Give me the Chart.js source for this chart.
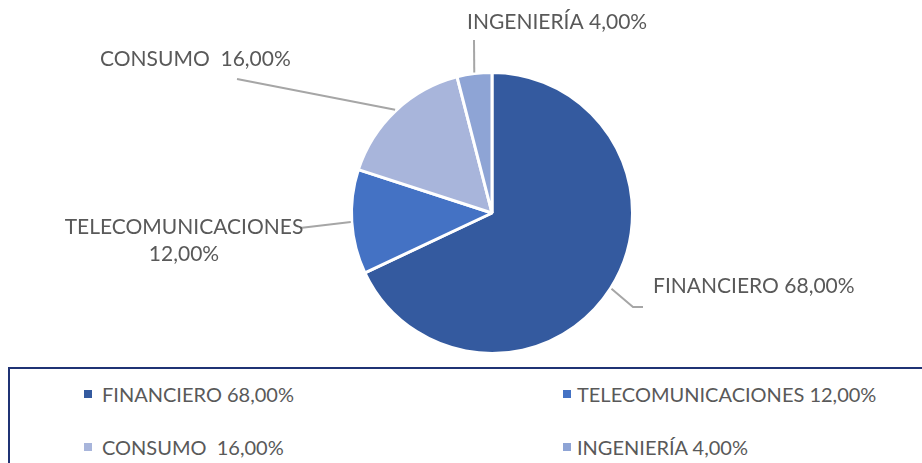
<!DOCTYPE html>
<html>
<head>
<meta charset="utf-8">
<script src="https://cdn.jsdelivr.net/npm/chart.js@4.4.1/dist/chart.umd.min.js"></script>
<style>
  html, body { margin: 0; padding: 0; background: #ffffff; }
  #wrap { position: relative; width: 922px; height: 463px; overflow: hidden; }
  #chartBox { position: absolute; left: 0; top: 0; width: 922px; height: 365px; }
  #legend { position: absolute; left: 8px; top: 367px; width: 940px; height: 120px;
            border: 2px solid #1f3274; box-sizing: border-box; }
  .item { position: absolute; font-family: Lato, "Open Sans", sans-serif; font-size: 20px;
          color: #595959; white-space: pre; line-height: 20px; }
  .mk { position: absolute; width: 8px; height: 8px; }
</style>
</head>
<body>
<div id="wrap">
  <div id="chartBox"><canvas id="c"></canvas></div>
  <div id="legend"></div>
</div>
<script>
// ---- data ----
const categories = ["FINANCIERO", "TELECOMUNICACIONES", "CONSUMO ", "INGENIERÍA"];
const values = [68, 12, 16, 4];
const valueLabels = ["68,00%", "12,00%", "16,00%", "4,00%"];
const colors = ["#345a9f", "#4472c4", "#a8b5db", "#8ea4d5"];

// ---- label layout (positions of text and leader line bends) ----
const labelLayout = [
  { pts: [[633, 307], [643, 307]], lines: ["FINANCIERO 68,00%"], x: 653, y: 286, align: "left" },
  { pts: [[300, 228]], lines: ["TELECOMUNICACIONES", "12,00%"], x: 184, y: 227, align: "center", lh: 27 },
  { pts: [[237, 79]], lines: ["CONSUMO  16,00%"], x: 100, y: 59, align: "left" },
  { pts: [[474, 40]], lines: ["INGENIERÍA 4,00%"], x: 467, y: 22, align: "left" }
];

const labelFont = '21px Lato, "Open Sans", sans-serif';

const leaderPlugin = {
  id: 'leaders',
  afterDatasetsDraw(chart) {
    const ctx = chart.ctx;
    const meta = chart.getDatasetMeta(0);
    meta.data.forEach((arc, i) => {
      const p = arc.getProps(['x', 'y', 'startAngle', 'endAngle', 'outerRadius'], true);
      const mid = (p.startAngle + p.endAngle) / 2;
      const sx = p.x + Math.cos(mid) * (p.outerRadius + 1);
      const sy = p.y + Math.sin(mid) * (p.outerRadius + 1);
      const L = labelLayout[i];
      ctx.save();
      ctx.strokeStyle = '#a6a6a6';
      ctx.lineWidth = 2;
      ctx.beginPath();
      ctx.moveTo(sx, sy);
      L.pts.forEach(q => ctx.lineTo(q[0], q[1]));
      ctx.stroke();
      ctx.fillStyle = '#595959';
      ctx.font = labelFont;
      ctx.textBaseline = 'middle';
      ctx.textAlign = L.align;
      L.lines.forEach((t, k) => ctx.fillText(t, L.x, L.y + k * (L.lh || 0)));
      ctx.restore();
    });
  }
};

new Chart(document.getElementById('c'), {
  type: 'pie',
  data: {
    labels: categories.map((c, i) => c + ' ' + valueLabels[i]),
    datasets: [{
      data: values,
      backgroundColor: colors,
      borderColor: '#ffffff',
      borderWidth: 3
    }]
  },
  options: {
    responsive: true,
    maintainAspectRatio: false,
    animation: false,
    layout: { padding: { top: 71, bottom: 10, left: 350, right: 288 } },
    plugins: { legend: { display: false }, tooltip: { enabled: false } }
  },
  plugins: [leaderPlugin]
});

// ---- legend ----
const legendPos = [
  { mx: 74, tx: 92, y: 25 },
  { mx: 553, tx: 567, y: 25 },
  { mx: 74, tx: 92, y: 78 },
  { mx: 553, tx: 567, y: 78 }
];
const lg = document.getElementById('legend');
categories.forEach((c, i) => {
  const P = legendPos[i];
  const m = document.createElement('div');
  m.className = 'mk';
  m.style.left = P.mx + 'px';
  m.style.top = (P.y - 4) + 'px';
  m.style.background = colors[i];
  lg.appendChild(m);
  const t = document.createElement('div');
  t.className = 'item';
  t.style.left = P.tx + 'px';
  t.style.top = (P.y - 10) + 'px';
  t.textContent = c + ' ' + valueLabels[i];
  lg.appendChild(t);
});
</script>
</body>
</html>
